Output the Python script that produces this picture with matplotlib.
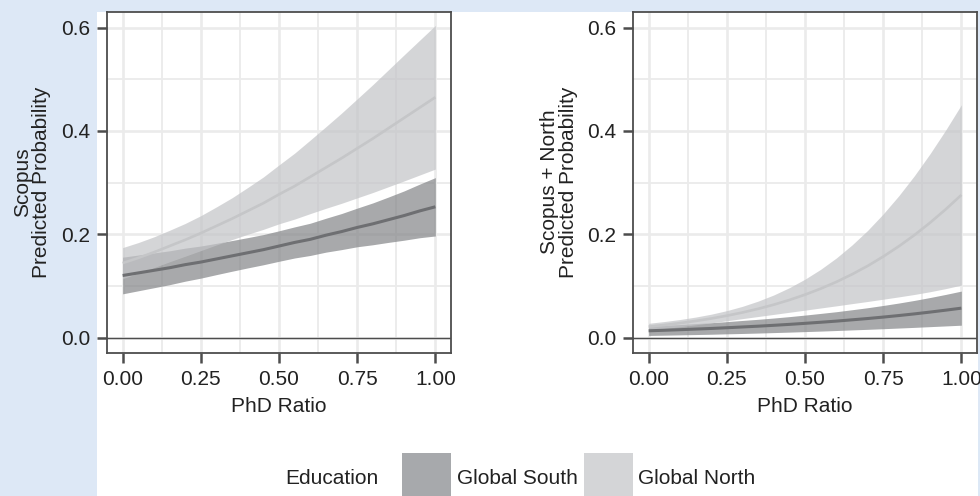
import matplotlib
matplotlib.use("Agg")
import matplotlib.pyplot as plt
from matplotlib.patches import Rectangle
import numpy as np

plt.rcParams['font.family'] = ['Liberation Sans', 'DejaVu Sans']

# ---------------- data ----------------
phd_ratio = [0.00, 0.05, 0.10, 0.15, 0.20, 0.25, 0.30, 0.35, 0.40, 0.45, 0.50,
             0.55, 0.60, 0.65, 0.70, 0.75, 0.80, 0.85, 0.90, 0.95, 1.00]

# Panel 1: Scopus -- predicted probability and half-width of the 95% band
scopus_south_fit = [0.120, 0.125, 0.130, 0.135, 0.141, 0.146, 0.152, 0.158, 0.164, 0.170, 0.177,
                    0.184, 0.190, 0.198, 0.205, 0.213, 0.220, 0.228, 0.236, 0.245, 0.253]
scopus_south_ci = [0.0355, 0.0346, 0.0337, 0.0328, 0.0320, 0.0311, 0.0303, 0.0297, 0.0293, 0.0292, 0.0295,
                   0.0301, 0.0312, 0.0328, 0.0349, 0.0374, 0.0405, 0.0439, 0.0477, 0.0519, 0.0565]
scopus_north_fit = [0.144, 0.154, 0.165, 0.177, 0.189, 0.202, 0.216, 0.230, 0.245, 0.260, 0.277,
                    0.293, 0.311, 0.329, 0.347, 0.366, 0.385, 0.405, 0.425, 0.445, 0.465]
scopus_north_ci = [0.0300, 0.0297, 0.0298, 0.0305, 0.0317, 0.0338, 0.0368, 0.0405, 0.0453, 0.0507, 0.0570,
                   0.0638, 0.0712, 0.0790, 0.0873, 0.0958, 0.1044, 0.1132, 0.1220, 0.1305, 0.1390]

# Panel 2: Scopus + North
sn_south_fit = [0.0130, 0.0140, 0.0151, 0.0163, 0.0175, 0.0189, 0.0204, 0.0219, 0.0236, 0.0254, 0.0274,
                0.0295, 0.0317, 0.0342, 0.0367, 0.0395, 0.0425, 0.0457, 0.0492, 0.0529, 0.0568]
sn_south_ci = [0.0090, 0.0095, 0.0100, 0.0106, 0.0112, 0.0118, 0.0126, 0.0133, 0.0141, 0.0150, 0.0160,
               0.0171, 0.0182, 0.0195, 0.0209, 0.0225, 0.0242, 0.0261, 0.0282, 0.0305, 0.0330]
sn_north_fit = [0.0210, 0.0242, 0.0278, 0.0320, 0.0367, 0.0422, 0.0484, 0.0555, 0.0635, 0.0726, 0.0829,
                0.0945, 0.1075, 0.1222, 0.1384, 0.1566, 0.1765, 0.1983, 0.2222, 0.2481, 0.2759]
sn_north_ci = [0.0065, 0.0067, 0.0070, 0.0075, 0.0084, 0.0098, 0.0119, 0.0149, 0.0188, 0.0238, 0.0300,
               0.0374, 0.0463, 0.0567, 0.0687, 0.0825, 0.0979, 0.1150, 0.1336, 0.1535, 0.1745]

x_ticks = [0.00, 0.25, 0.50, 0.75, 1.00]
x_tick_labels = ["0.00", "0.25", "0.50", "0.75", "1.00"]
y_ticks = [0.0, 0.2, 0.4, 0.6]
y_tick_labels = ["0.0", "0.2", "0.4", "0.6"]
legend_title = "Education"
groups = ["Global South", "Global North"]
ylabels = ["Scopus\nPredicted Probability", "Scopus + North\nPredicted Probability"]
xlabel = "PhD Ratio"

# ---------------- style ----------------
BLUE = "#dde8f6"
SOUTH_FILL = "#838588"
NORTH_FILL = "#c3c4c7"
SOUTH_LINE = "#6e6f72"
NORTH_LINE = "#c5c6c8"
FRAME = "#4d4d4d"
GRID = "#ebebeb"
TXT = "#222222"
ALPHA = 0.7
FS = 15

fig = plt.figure(figsize=(9.8, 4.96), dpi=100, facecolor=BLUE)
fig.patches.append(Rectangle((97/980, 0), (978-97)/980, (496-12)/496,
                             transform=fig.transFigure, facecolor="white",
                             edgecolor="none", zorder=-10))

panel_data = [
    (scopus_south_fit, scopus_south_ci, scopus_north_fit, scopus_north_ci),
    (sn_south_fit, sn_south_ci, sn_north_fit, sn_north_ci),
]
panel_left_px = [107, 633]
label_x_px = [32, 559]

x = np.array(phd_ratio)
for i, (sf, sc, nf, nc) in enumerate(panel_data):
    sf, sc, nf, nc = map(np.array, (sf, sc, nf, nc))
    ax = fig.add_axes([panel_left_px[i]/980, 1-353/496, 344/980, (353-12)/496])
    ax.set_facecolor("white")
    ax.set_xlim(-0.05, 1.05)
    ax.set_ylim(-0.03, 0.63)
    ax.set_xticks(x_ticks)
    ax.set_xticklabels(x_tick_labels)
    ax.set_yticks(y_ticks)
    ax.set_yticklabels(y_tick_labels)
    ax.set_xticks([0.125, 0.375, 0.625, 0.875], minor=True)
    ax.set_yticks([0.1, 0.3, 0.5], minor=True)
    ax.grid(True, which="major", color=GRID, lw=1.9, zorder=0)
    ax.grid(True, which="minor", color=GRID, lw=1.3, zorder=0)
    ax.set_axisbelow(True)
    ax.tick_params(which="major", direction="out", length=7, width=1.8,
                   color=FRAME, labelsize=FS, labelcolor=TXT, pad=5)
    ax.tick_params(which="minor", length=0)
    for s in ax.spines.values():
        s.set_color(FRAME)
        s.set_linewidth(1.3)
    ax.axhline(0, color=FRAME, lw=1.0, zorder=1)

    ax.fill_between(x, sf - sc, sf + sc, color=SOUTH_FILL, alpha=ALPHA, lw=0, zorder=2)
    ax.fill_between(x, nf - nc, nf + nc, color=NORTH_FILL, alpha=ALPHA, lw=0, zorder=3)
    ax.plot(x, sf, color=SOUTH_LINE, lw=2.2, zorder=5, solid_capstyle="butt")
    ax.plot(x, nf, color=NORTH_LINE, lw=1.9, zorder=4, solid_capstyle="butt")

    ax.set_xlabel(xlabel, fontsize=FS, color=TXT, labelpad=6)
    fig.text(label_x_px[i]/980, 1-182/496, ylabels[i], rotation=90, ha="center",
             va="center", multialignment="center", fontsize=FS, color=TXT,
             linespacing=1.0)

# ---------------- legend ----------------
fig.text(378/980, 1-478/496, legend_title, ha="right", va="center", fontsize=FS, color=TXT)
key_colors = ["#a7a9ac", "#d4d5d7"]
key_x = [402, 584]
text_x = [457, 638]
for kc, kx, tx, g in zip(key_colors, key_x, text_x, groups):
    fig.patches.append(Rectangle((kx/980, 1-502/496), 49/980, 49/496,
                                 transform=fig.transFigure, facecolor=kc,
                                 edgecolor="none"))
    fig.text(tx/980, 1-478/496, g, ha="left", va="center", fontsize=FS, color=TXT)

fig.savefig("out.png", dpi=100, facecolor=BLUE)
